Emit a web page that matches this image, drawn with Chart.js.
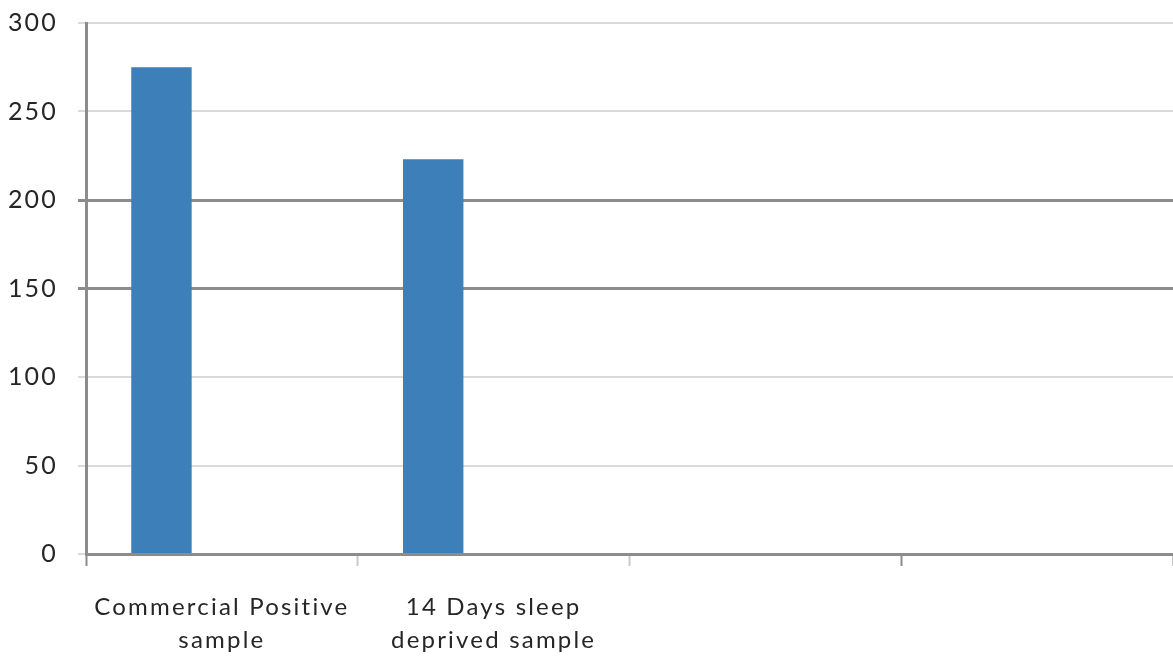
<!DOCTYPE html>
<html>
<head>
<meta charset="utf-8">
<script src="https://cdn.jsdelivr.net/npm/chart.js@4/dist/chart.umd.min.js"></script>
<style>
  html, body { margin: 0; padding: 0; background: #ffffff; }
  #wrap { width: 1173px; height: 661px; position: relative; }
</style>
</head>
<body>
<div id="wrap"><canvas id="chart"></canvas></div>
<script>
// Categories (multi-line labels) and series values
const categories = [
  ["Commercial Positive", "sample"],
  ["14 Days sleep", "deprived sample"],
  "",
  ""
];
const series1 = [275, 223, null, null];
const series2 = [null, null, null, null];
const series3 = [null, null, null, null];
const yTicks = [0, 50, 100, 150, 200, 250, 300];

const barBlue = "#3c7fb9";
const darkLine = "#8c8c8c";
const lightLine = "#dadada";
const emphasised = [150, 200];

const setSpacing = (chart) => { chart.ctx.letterSpacing = "2.2px"; };

new Chart(document.getElementById("chart"), {
  type: "bar",
  data: {
    labels: categories,
    datasets: [
      { label: "Series 1", data: series1, backgroundColor: barBlue },
      { label: "Series 2", data: series2, backgroundColor: barBlue },
      { label: "Series 3", data: series3, backgroundColor: barBlue }
    ]
  },
  options: {
    responsive: true,
    maintainAspectRatio: false,
    animation: false,
    events: [],
    layout: { padding: { top: 23, right: 0, bottom: 0, left: 0 } },
    datasets: { bar: { categoryPercentage: 0.667, barPercentage: 1.0 } },
    plugins: {
      legend: { display: false },
      tooltip: { enabled: false }
    },
    scales: {
      x: {
        offset: true,
        border: { display: true, color: darkLine, width: 3, z: 1 },
        grid: {
          offset: true,
          drawOnChartArea: false,
          drawTicks: true,
          tickLength: 12,
          tickWidth: 2,
          tickColor: (ctx) => (ctx.index === 1 || ctx.index === 2) ? "#c8c8c8" : darkLine
        },
        ticks: {
          color: "#262626",
          font: { family: "Lato, 'Open Sans', sans-serif", size: 24, lineHeight: 1.38 },
          padding: 25,
          maxRotation: 0,
          autoSkip: false
        },
        afterFit: (scale) => { scale.height = 107; }
      },
      y: {
        min: 0,
        max: 300,
        afterBuildTicks: (scale) => { scale.ticks = yTicks.map(v => ({ value: v })); },
        border: { display: true, color: darkLine, width: 3 },
        grid: {
          color: (ctx) => emphasised.includes(ctx.tick.value) ? darkLine : lightLine,
          lineWidth: (ctx) => emphasised.includes(ctx.tick.value) ? 3 : 2,
          tickColor: (ctx) => emphasised.includes(ctx.tick.value) ? darkLine : lightLine,
          tickLength: 8
        },
        ticks: {
          color: "#262626",
          font: { family: "Lato, 'Open Sans', sans-serif", size: 25 },
          padding: 20
        },
        afterFit: (scale) => {
          scale.width = 86;
          scale.paddingTop = 0;
          scale.paddingBottom = 0;
        }
      }
    }
  },
  plugins: [{
    id: "spacing",
    beforeLayout: setSpacing,
    beforeDraw: setSpacing
  }]
});
</script>
</body>
</html>
